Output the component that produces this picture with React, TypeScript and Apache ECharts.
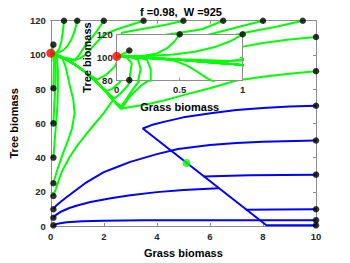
import { useEffect, useRef } from 'react';
import * as echarts from 'echarts';

const FONT = '"Liberation Sans", Arial, sans-serif';
const GREEN = '#00ff00';
const BLUE = '#0000ff';
const AXIS = '#8c8c8c';

// slow manifold that green trajectories follow into the tree equilibrium
const trunk = [[2.65, 68.5], [2.35, 73.5], [2.05, 79], [1.7, 84.5], [1.3, 90], [0.9, 94.5], [0.5, 98], [0, 101]];
const tail = (x: number) => trunk.filter((p) => p[0] < x);

const greenTop05 = [[0.5, 120], [0.46, 114], [0.4, 108], [0.32, 103.5], [0.22, 101.5], [0, 101]];
const greenTop1 = [[1, 120], [0.9, 114], [0.78, 109], [0.62, 105], [0.45, 102.5], [0.25, 101.3], [0, 101]];
const greenTop2 = [[2, 120], [1.7, 113], [1.3, 105.5], [1.05, 99.5], [0.88, 96.5], [0.5, 98], [0, 101]];
const greenTop35 = [[3.5, 120], [3.0, 117.5], [2.5, 115], [2.0, 111.8], [1.65, 106], [1.33, 100.3], [1.1, 98], [0.9, 97], [0.5, 98.5], [0.2, 100.3], [0, 101]];
const greenTop5 = [[5, 120], [4.3, 117.5], [3.5, 115.3], [2.68, 113], [2.63, 100], [2.4, 93], [2.1, 88.5], [1.75, 85.5]];
const greenTop65 = [[6.5, 120], [5.7, 115], [4.8, 112.8], [4, 111], [3.0, 100], [2.8, 90], [2.6, 84], [2.3, 80], [2.1, 79]];
const greenTop8 = [[8, 120], [7, 116], [6.2, 112.8], [5.5, 110], [4, 100], [3.2, 90], [2.9, 82], [2.6, 77], [2.4, 74.5]];
const greenTop95 = [[9.5, 120], [8.5, 116.5], [7.26, 112.8], [6, 108], [4.5, 98], [3.5, 88], [3.1, 80], [2.8, 73], [2.65, 70]];
const greenRight110 = [[10, 110.5], [9, 109], [8, 107], [7.3, 105], [6, 100], [5, 94], [4, 88], [3.4, 82], [3.0, 76], [2.75, 70.5]];
const greenRight90 = [[10, 90.5], [9, 89], [8, 87.2], [7, 85], [6, 80.5], [5, 76.5], [4.3, 73.5], [3.6, 71], [3.0, 69.5]];
const greenLeft106 = [[0.1, 106], [0.06, 103.5], [0, 101]];
const greenLeft80 = [[0.1, 80.5], [0.11, 88], [0.12, 95], [0.08, 100], [0, 101]];
const greenLeft60 = [[0.1, 60], [0.13, 70], [0.17, 80], [0.19, 90], [0.17, 98], [0.1, 100.7], [0, 101]];
const greenLeft40 = [[0.1, 40], [0.15, 50], [0.2, 60], [0.25, 70], [0.27, 80], [0.27, 90], [0.24, 98], [0.15, 100.5], [0, 101]];
const greenLeft25 = [[0.1, 25], [0.25, 33], [0.45, 42], [0.65, 50], [0.8, 57], [0.9, 66], [0.85, 74], [0.72, 82], [0.62, 89], [0.56, 93], [0.45, 97.5], [0.2, 100.5], [0, 101]];
const greenLeft17 = [[0.1, 17.5], [0.2, 22], [0.41, 31.5], [0.7, 40], [1.0, 47], [1.35, 54], [1.7, 60.5], [2.0, 66], [2.2, 70.5], [2.35, 73.5]];

const blueLeft0 = [[0.1, 0.4], [0.25, 1.3], [0.6, 2.2], [1.2, 2.8], [2, 3.1], [3.5, 3.3], [5, 3.4], [10, 3.4]];
const blueLeft5 = [[0.1, 4.8], [0.2, 6.5], [0.4, 8.5], [0.7, 10.5], [1.0, 12], [1.5, 14], [2.26, 16.2], [3, 18], [4, 19.8], [5, 21], [6.33, 22]];
const blueLeft10 = [[0.1, 9.8], [0.2, 11.8], [0.4, 14.5], [0.78, 19], [1.3, 25], [2, 31.5], [2.5, 34.5], [3, 37.5], [4, 42], [4.8, 45], [6, 47.3], [7, 48.5], [8, 49.3], [10, 50]];
const blueRight70 = [[10, 70.3], [9, 69.8], [8, 69], [7, 67.8], [6.1, 66], [5, 63.5], [4.3, 61], [3.8, 59], [3.47, 57], [8.13, 0.4], [10, 0.4]];
const blueRight30 = [[10, 30], [7.5, 29.6], [5.76, 29]];
const blueRight10 = [[10, 9.8], [8.5, 9.7], [7.35, 9.5]];

const dotsTopX = [0.5, 1, 2, 3.5, 5, 6.5, 8, 9.5];
const dotsRightY = [110.5, 90.5, 70.3, 50, 30, 9.8, 3.4, 0.4];
const dotsLeftY = [106, 80.5, 60, 40, 25, 17.5, 9.8, 4.8, 0.4];
const treeEquilibrium = [[0, 101]];
const saddlePoint = [[5.12, 36.8]];

const mainXTicks = { min: 0, max: 10, interval: 2 };
const mainYTicks = { min: 0, max: 120, interval: 20 };
const insetXTicks = { min: 0, max: 1, interval: 0.5 };
const insetYTicks = { min: 80, max: 120, interval: 20 };

const greenLines = [
  greenTop05, greenTop1, greenTop2, greenTop35,
  [...greenTop5, ...tail(1.7)],
  [...greenTop65, ...tail(2.05)],
  [...greenTop8, ...tail(2.35)],
  [...greenTop95, ...tail(2.6)],
  [...greenRight110, ...trunk],
  [...greenRight90, ...trunk],
  greenLeft106, greenLeft80, greenLeft60, greenLeft40, greenLeft25,
  [...greenLeft17, ...tail(2.35)],
];
const blueLines = [blueLeft0, blueLeft5, blueLeft10, blueRight70, blueRight30, blueRight10];

const dots = [
  ...dotsTopX.map((x) => [x, 120]),
  ...dotsRightY.map((y) => [10, y]),
  ...dotsLeftY.map((y) => [0.1, y]),
];

const MAIN = { left: 45.7, top: 20.7, width: 270.3, height: 209.3 };
const INSET = { left: 116.7, top: 34.3, width: 126, height: 46.4 };

const labelStyle = { color: '#262626', fontWeight: 'bold' as const, fontSize: 9.5, fontFamily: FONT };
const nameStyle = { color: '#000', fontWeight: 'bold' as const, fontSize: 11, fontFamily: FONT };

function axis(gridIndex: number, ticks: any, position: string, labels: boolean, extra: any = {}) {
  return {
    type: 'value',
    gridIndex,
    position,
    ...ticks,
    axisLine: { show: true, onZero: false, lineStyle: { color: AXIS, width: 1 } },
    axisTick: { show: true, inside: true, length: 3, lineStyle: { color: AXIS } },
    splitLine: { show: false },
    axisLabel: labels ? { ...labelStyle, margin: extra.margin ?? 5 } : { show: false },
    ...extra,
  };
}

function buildSeries(inset: boolean) {
  const ax = inset ? 2 : 0;
  const zb = inset ? 20 : 2;
  const common = { xAxisIndex: ax, yAxisIndex: ax, silent: true, clip: true, animation: false };
  const out: any[] = [];
  greenLines.forEach((d) =>
    out.push({ ...common, type: 'line', data: d, showSymbol: false, symbol: 'none', lineStyle: { color: GREEN, width: 2 }, z: zb })
  );
  blueLines.forEach((d) =>
    out.push({ ...common, type: 'line', data: d, showSymbol: false, symbol: 'none', lineStyle: { color: BLUE, width: 2 }, z: zb })
  );
  out.push({ ...common, type: 'scatter', data: dots, symbolSize: 6.5, itemStyle: { color: '#000' }, z: zb + 3 });
  out.push({ ...common, type: 'scatter', data: treeEquilibrium, symbolSize: 9, itemStyle: { color: '#ff0000' }, z: zb + 4 });
  out.push({ ...common, type: 'scatter', data: saddlePoint, symbolSize: 8, itemStyle: { color: GREEN }, z: zb + 4 });
  return out;
}

export default function App() {
  const ref = useRef<HTMLDivElement>(null);
  useEffect(() => {
    const chart = echarts.init(ref.current!, null, { renderer: 'svg' });
    chart.setOption({
      animation: false,
      backgroundColor: '#fff',
      grid: [
        { ...MAIN, containLabel: false },
        { ...INSET, containLabel: false },
      ],
      xAxis: [
        axis(0, mainXTicks, 'bottom', true, {
          name: 'Grass biomass', nameLocation: 'middle', nameGap: 21, nameTextStyle: nameStyle, margin: 5,
        }),
        axis(0, mainXTicks, 'top', false),
        axis(1, insetXTicks, 'bottom', true, {
          name: 'Grass biomass', nameLocation: 'middle', nameGap: 21, nameTextStyle: nameStyle, z: 15, margin: 4,
        }),
        { ...axis(1, insetXTicks, 'top', false), z: 15 },
      ],
      yAxis: [
        axis(0, mainYTicks, 'left', true, {
          name: 'Tree biomass', nameLocation: 'middle', nameGap: 24, nameTextStyle: nameStyle, margin: 5,
        }),
        axis(0, mainYTicks, 'right', false),
        axis(1, insetYTicks, 'left', true, {
          name: 'Tree biomass', nameLocation: 'middle', nameGap: 23, nameTextStyle: nameStyle, z: 15, margin: 4,
        }),
        { ...axis(1, insetYTicks, 'right', false), z: 15 },
      ],
      graphic: [
        {
          type: 'rect',
          shape: { x: INSET.left, y: INSET.top, width: INSET.width, height: INSET.height },
          style: { fill: '#fff' },
          z: 10,
          silent: true,
        },
        {
          type: 'text',
          x: 181,
          y: 12,
          style: {
            text: 'f =0.98,  W =925',
            fill: '#000',
            font: `bold 11px ${FONT}`,
            textAlign: 'center',
            textVerticalAlign: 'middle',
          },
          z: 30,
        },
      ],
      series: [...buildSeries(false), ...buildSeries(true)],
    });
    return () => chart.dispose();
  }, []);
  return <div ref={ref} style={{ position: 'absolute', left: 0, top: 0, width: 350, height: 263 }} />;
}
